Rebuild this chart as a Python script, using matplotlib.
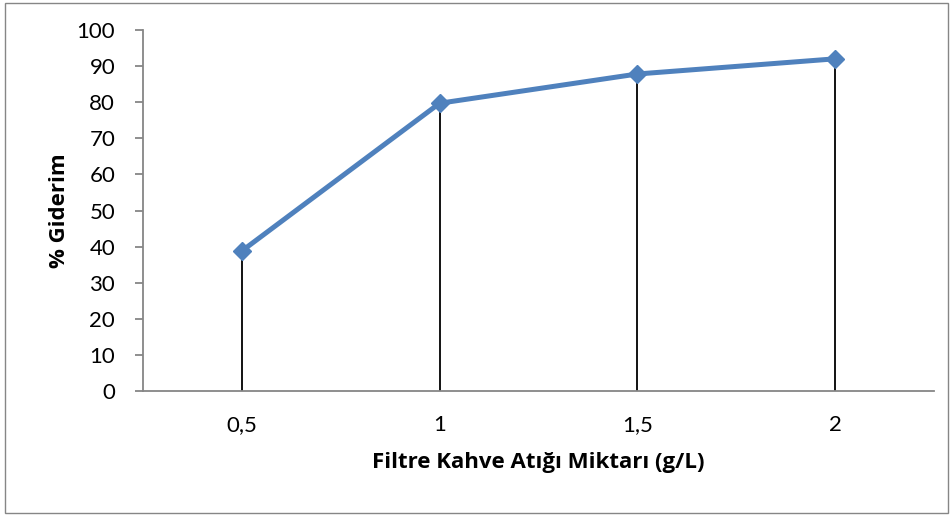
import matplotlib
matplotlib.use("Agg")
import matplotlib.pyplot as plt
from matplotlib.patches import Rectangle

# --- Data ---
categories = ["0,5", "1", "1,5", "2"]
removal = [38.8, 79.7, 87.8, 92.0]
y_ticks = list(range(0, 101, 10))

plt.rcParams['font.family'] = ['Lato', 'DejaVu Sans']

fig = plt.figure(figsize=(9.53, 5.16), dpi=100)
ax = fig.add_axes([0.150, 0.242, 0.830, 0.700])

x = list(range(1, len(categories) + 1))

# drop lines
ax.vlines(x, 0, removal, color='black', linewidth=1.3, zorder=2)
ax.plot(x, removal, color='#4F81BD', linewidth=3.6, marker='D', markersize=9,
        markerfacecolor='#4F81BD', markeredgecolor='#4F81BD', zorder=3)

ax.set_xlim(0.5, len(categories) + 0.5)
ax.set_ylim(0, 100)
ax.set_xticks(x)
ax.set_xticklabels(categories)
ax.set_yticks(y_ticks)

for side in ['top', 'right']:
    ax.spines[side].set_visible(False)
for side in ['left', 'bottom']:
    ax.spines[side].set_color('#868686')
    ax.spines[side].set_linewidth(1.3)

ax.tick_params(axis='y', length=6, width=1.3, color='#868686', labelsize=16, pad=14)
ax.tick_params(axis='x', length=0, labelsize=16, pad=17.5)

label_font = ['Open Sans', 'DejaVu Sans']
ax.set_ylabel('% Giderim', fontsize=16, fontweight='bold', family=label_font, labelpad=5)
ax.set_xlabel('Filtre Kahve Atığı Miktarı (g/L)', fontsize=16, fontweight='bold',
              family=label_font, labelpad=12)

# outer chart border
fig.patches.append(Rectangle((0.005, 0.006), 0.99, 0.988, transform=fig.transFigure,
                             fill=False, edgecolor='#868686', linewidth=1.0))

fig.savefig('out.png', dpi=100)
